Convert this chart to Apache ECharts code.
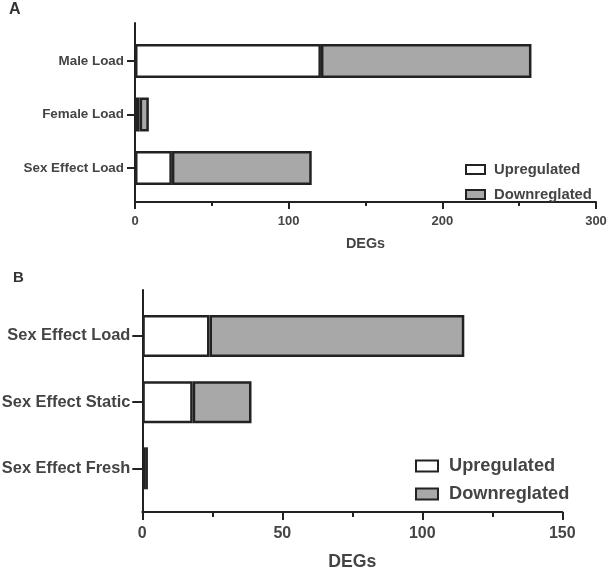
<!DOCTYPE html>
<html>
<head>
<meta charset="utf-8">
<script src="https://cdn.jsdelivr.net/npm/echarts@6/dist/echarts.min.js"></script>
<style>
html,body{margin:0;padding:0;background:#fff;}
#chart{width:608px;height:575px;}
</style>
</head>
<body>
<div id="chart"></div>
<script>
// Panel A data
const catsA = ['Male Load', 'Female Load', 'Sex Effect Load'];
const upA = [121, 3, 24];
const downA = [137, 6, 91];
const ticksA = [0, 100, 200, 300];
// Panel B data
const catsB = ['Sex Effect Load', 'Sex Effect Static', 'Sex Effect Fresh'];
const upB = [24, 18, 1];
const downB = [91, 21, 1];
const ticksB = [0, 50, 100, 150];
const seriesNames = ['Upregulated', 'Downreglated'];

const FONT = 'Liberation Sans, Arial, sans-serif';
const TXT = '#444';
const LINE = '#222';
const GRAY = '#a8a8a8';

const chart = echarts.init(document.getElementById('chart'), null, {renderer: 'canvas'});

function hiddenX(idx, max) {
  return {gridIndex: idx, type: 'value', min: 0, max: max, show: false};
}
function grid(l, w, t, h) {
  return {left: l, width: w, top: t, height: h, containLabel: false, outerBoundsMode: 'none'};
}

const option = {
  animation: false,
  backgroundColor: '#fff',
  title: [
    {text: 'A', left: 9, top: 2, padding: 0, textStyle: {fontFamily: FONT, fontSize: 16, fontWeight: 'bold', color: '#333'}},
    {text: 'B', left: 13, top: 270.5, padding: 0, textStyle: {fontFamily: FONT, fontSize: 15, fontWeight: 'bold', color: '#333'}}
  ],
  legend: [
    {
      orient: 'vertical', left: 460, top: 157, itemWidth: 19, itemHeight: 9, itemGap: 10,
      icon: 'rect', data: seriesNames,
      textStyle: {fontFamily: FONT, fontSize: 14.8, fontWeight: 'bold', color: TXT, padding: [0,0,0,4]},
      seriesIndex: [0, 1]
    },
    {
      orient: 'vertical', left: 410, top: 452, itemWidth: 22, itemHeight: 11, itemGap: 10,
      icon: 'rect', data: seriesNames,
      textStyle: {fontFamily: FONT, fontSize: 18.2, fontWeight: 'bold', color: TXT, padding: [0,0,0,6]},
      seriesIndex: [2, 3]
    }
  ],
  grid: [
    grid(135, 461, 34.25, 160.5),   // A bars
    grid(135, 461, 23, 179),        // A axes frame
    grid(142.3, 420, 302.9, 198.5), // B bars
    grid(142.3, 420, 290, 222)      // B axes frame
  ],
  xAxis: [
    hiddenX(0, 300),
    {
      gridIndex: 1, type: 'value', min: 0, max: 300, interval: 100,
      axisLine: {show: true, lineStyle: {color: LINE, width: 2}},
      axisTick: {show: true, length: 7, lineStyle: {color: LINE, width: 2}},
      minorTick: {show: true, splitNumber: 2, length: 4, lineStyle: {color: LINE, width: 2}},
      splitLine: {show: false},
      axisLabel: {margin: 13, fontFamily: FONT, fontSize: 13, fontWeight: 'bold', color: TXT,
        formatter: v => ticksA.includes(v) ? String(v) : ''},
      name: 'DEGs', nameLocation: 'middle', nameGap: 35,
      nameTextStyle: {fontFamily: FONT, fontSize: 14.4, fontWeight: 'bold', color: TXT}
    },
    hiddenX(2, 150),
    {
      gridIndex: 3, type: 'value', min: 0, max: 150, interval: 50,
      axisLine: {show: true, lineStyle: {color: LINE, width: 2}},
      axisTick: {show: true, length: 8, lineStyle: {color: LINE, width: 2}},
      minorTick: {show: true, splitNumber: 2, length: 5, lineStyle: {color: LINE, width: 2}},
      splitLine: {show: false},
      axisLabel: {margin: 14, fontFamily: FONT, fontSize: 16, fontWeight: 'bold', color: TXT,
        formatter: v => ticksB.includes(v) ? String(v) : ''},
      name: 'DEGs', nameLocation: 'middle', nameGap: 41,
      nameTextStyle: {fontFamily: FONT, fontSize: 17.7, fontWeight: 'bold', color: TXT}
    }
  ],
  yAxis: [
    {
      gridIndex: 0, type: 'category', data: catsA, inverse: true,
      axisLine: {show: false},
      axisTick: {show: true, alignWithLabel: true, length: 8, lineStyle: {color: LINE, width: 2}},
      axisLabel: {margin: 11, fontFamily: FONT, fontSize: 13.4, fontWeight: 'bold', color: TXT}
    },
    {
      gridIndex: 1, type: 'value', min: 0, max: 1,
      axisLine: {show: true, lineStyle: {color: LINE, width: 2}},
      axisTick: {show: false}, axisLabel: {show: false}, splitLine: {show: false}
    },
    {
      gridIndex: 2, type: 'category', data: catsB, inverse: true,
      axisLine: {show: false},
      axisTick: {show: true, alignWithLabel: true, length: 10, lineStyle: {color: LINE, width: 2}},
      axisLabel: {margin: 12, fontFamily: FONT, fontSize: 16.4, fontWeight: 'bold', color: TXT}
    },
    {
      gridIndex: 3, type: 'value', min: 0, max: 1,
      axisLine: {show: true, lineStyle: {color: LINE, width: 2}},
      axisTick: {show: false}, axisLabel: {show: false}, splitLine: {show: false}
    }
  ],
  series: [
    {name: seriesNames[0], type: 'bar', stack: 'a', xAxisIndex: 0, yAxisIndex: 0, data: upA, barWidth: 34,
      itemStyle: {color: '#fff', borderColor: LINE, borderWidth: 2.5}},
    {name: seriesNames[1], type: 'bar', stack: 'a', xAxisIndex: 0, yAxisIndex: 0, data: downA, barWidth: 34,
      itemStyle: {color: GRAY, borderColor: LINE, borderWidth: 2.5}},
    {name: seriesNames[0], type: 'bar', stack: 'b', xAxisIndex: 2, yAxisIndex: 2, data: upB, barWidth: 42,
      itemStyle: {color: '#fff', borderColor: LINE, borderWidth: 2.5}},
    {name: seriesNames[1], type: 'bar', stack: 'b', xAxisIndex: 2, yAxisIndex: 2, data: downB, barWidth: 42,
      itemStyle: {color: GRAY, borderColor: LINE, borderWidth: 2.5}}
  ]
};
chart.setOption(option);
</script>
</body>
</html>
